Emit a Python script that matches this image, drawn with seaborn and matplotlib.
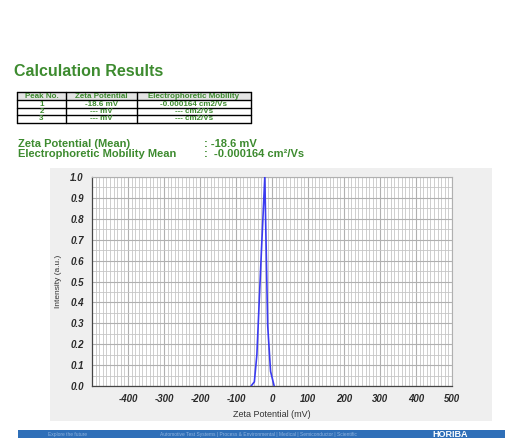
import matplotlib
matplotlib.use("Agg")
import matplotlib.pyplot as plt
from matplotlib.patches import Rectangle
from matplotlib.ticker import MultipleLocator, FixedLocator
import seaborn as sns
import pandas as pd

# ---- data ----
zeta_mv = [-58, -49, -42, -29, -20, -12, -4, 6]
intensity = [0.0, 0.02, 0.15, 0.66, 1.0, 0.29, 0.07, 0.0]
x_ticks = [-400, -300, -200, -100, 0, 100, 200, 300, 400, 500]
y_ticks = [0.0, 0.1, 0.2, 0.3, 0.4, 0.5, 0.6, 0.7, 0.8, 0.9, 1.0]
table_header = ["Peak No.", "Zeta Potential", "Electrophoretic Mobility"]
table_rows = [["1", "-18.6 mV", "-0.000164 cm2/Vs"],
              ["2", "--- mV", "--- cm2/Vs"],
              ["3", "--- mV", "--- cm2/Vs"]]
mean_labels = ["Zeta Potential (Mean)", "Electrophoretic Mobility Mean"]
mean_values = [": -18.6 mV", ":  -0.000164 cm\u00b2/Vs"]

sns.set_theme(style="white")
plt.rcParams['font.family'] = ['Liberation Sans', 'DejaVu Sans']

W, H = 505, 438
fig = plt.figure(figsize=(W / 100, H / 100), dpi=100)
fig.patch.set_facecolor("white")

def fx(px):
    return px / W

def fy(py):
    return 1 - py / H

green = "#3d8b2f"

# title
fig.text(fx(14), fy(72), "Calculation Results", color=green, fontsize=11.5,
         fontweight="bold", va="center", ha="left")

# table
col_edges = [17, 66, 137, 251]
row_edges = [92, 100, 108, 115, 123]
fig.add_artist(Rectangle((fx(17), fy(100)), fx(251) - fx(17), fy(92) - fy(100),
                         transform=fig.transFigure, facecolor="#e4e4e4",
                         edgecolor="none", zorder=-1))
for xe in col_edges:
    fig.add_artist(plt.Line2D([fx(xe), fx(xe)], [fy(row_edges[0]), fy(row_edges[-1])],
                              color="black", lw=1.0))
for ye in row_edges:
    fig.add_artist(plt.Line2D([fx(col_edges[0]), fx(col_edges[-1])], [fy(ye), fy(ye)],
                              color="black", lw=1.0))
all_rows = [table_header] + table_rows
for r, row in enumerate(all_rows):
    yc = (row_edges[r] + row_edges[r + 1]) / 2
    for c, txt in enumerate(row):
        xc = (col_edges[c] + col_edges[c + 1]) / 2
        fig.text(fx(xc), fy(yc), txt, color=green, fontsize=5.8, fontweight="bold",
                 ha="center", va="center")

# mean texts
for i, (lab, val) in enumerate(zip(mean_labels, mean_values)):
    yy = 144 + i * 10
    fig.text(fx(18), fy(yy), lab, color=green, fontsize=8, fontweight="bold",
             ha="left", va="center")
    fig.text(fx(204), fy(yy), val, color=green, fontsize=8, fontweight="bold",
             ha="left", va="center")

# gray chart panel
fig.add_artist(Rectangle((fx(50), fy(421)), fx(492) - fx(50), fy(168) - fy(421),
                         transform=fig.transFigure, facecolor="#efefef",
                         edgecolor="none", zorder=-2))

# footer bar
fig.add_artist(Rectangle((fx(18), 0), 1 - fx(18), fy(430), transform=fig.transFigure,
                         facecolor="#2f6fb8", edgecolor="none", zorder=-2))
fig.text(fx(48), fy(434.5), "Explore the future", color="#8fb3df", fontsize=3.5,
         ha="left", va="center")
fig.text(fx(160), fy(434.5), "Automotive Test Systems | Process & Environmental | Medical | Semiconductor | Scientific",
         color="#8fb3df", fontsize=3.5, ha="left", va="center")
fig.text(fx(432), fy(434.2), "HORIBA", color="white", fontsize=6.5, fontweight="bold",
         ha="left", va="center")

# chart axes
ax = fig.add_axes([fx(92), fy(386), fx(452) - fx(92), fy(177) - fy(386)])
ax.set_facecolor("white")
df = pd.DataFrame({"Zeta Potential (mV)": zeta_mv, "Intensity (a.u.)": intensity})
sns.lineplot(data=df, x="Zeta Potential (mV)", y="Intensity (a.u.)", ax=ax,
             color="#3b3bf0", lw=1.2, zorder=5)
ax.set_xlim(-500, 500)
ax.set_ylim(0, 1.0)
ax.xaxis.set_major_locator(FixedLocator(x_ticks))
ax.xaxis.set_minor_locator(MultipleLocator(10))
ax.yaxis.set_major_locator(FixedLocator(y_ticks))
ax.yaxis.set_minor_locator(MultipleLocator(0.05))
ax.grid(which="major", axis="both", color="#b0b0b0", lw=0.8)
ax.grid(which="minor", axis="both", color="#c6c6c6", lw=0.6)
ax.set_axisbelow(True)
for s in ["top", "right"]:
    ax.spines[s].set_color("#b0b0b0")
    ax.spines[s].set_linewidth(0.8)
for s in ["left", "bottom"]:
    ax.spines[s].set_color("#444444")
    ax.spines[s].set_linewidth(0.9)
ax.tick_params(axis="both", which="major", direction="out", length=4, width=0.8,
               color="#444444", labelsize=7, labelcolor="#2a2a2a", pad=2)
ax.tick_params(axis="both", which="minor", direction="out", length=2, width=0.6,
               color="#444444")
ax.set_xticklabels([str(v) for v in x_ticks], fontweight="bold", fontstyle="italic")
ax.set_yticklabels([f"{v:.1f}" for v in y_ticks], fontweight="bold", fontstyle="italic")
ax.set_xlabel("Zeta Potential (mV)", fontsize=6.5, color="#333333", labelpad=4)
ax.set_ylabel("Intensity (a.u.)", fontsize=6, color="#333333", labelpad=6)

fig.savefig("out.png", dpi=100, facecolor="white")
